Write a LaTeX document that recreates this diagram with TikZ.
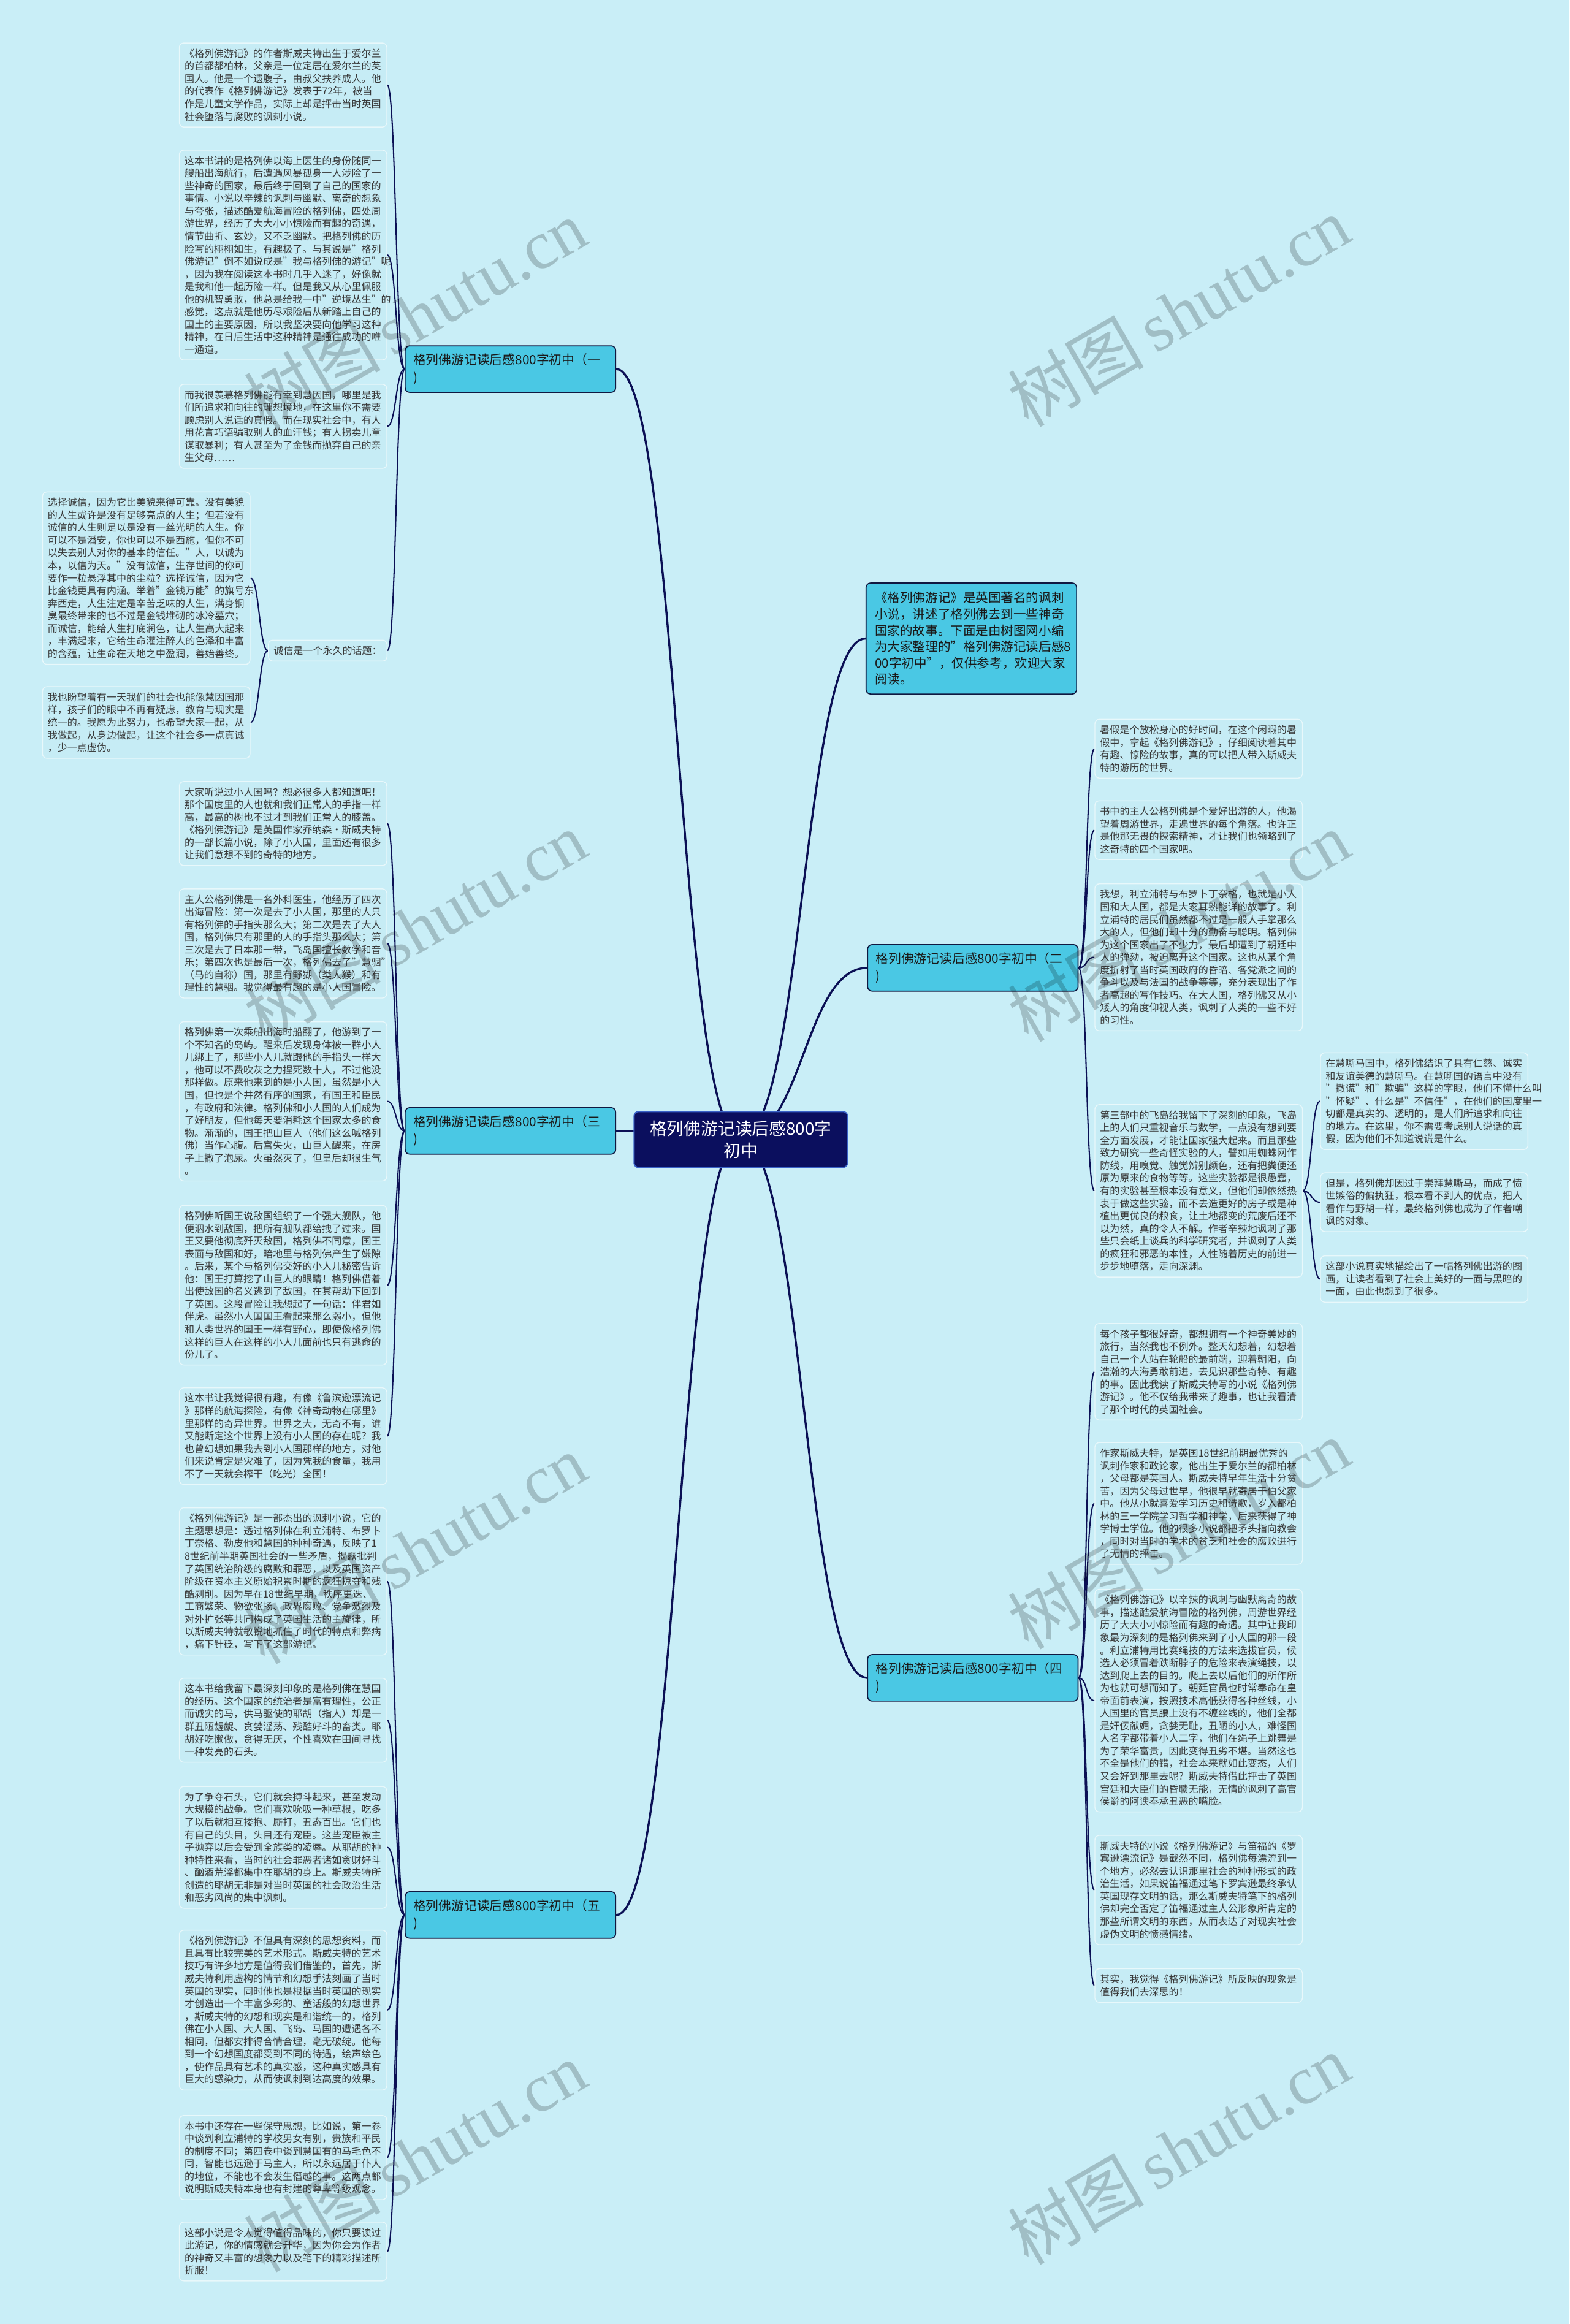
\documentclass[tikz,border=0pt]{standalone}
\usepackage{fontspec}
\setmainfont{Noto Sans CJK SC}
\newfontfamily\wmlatin{Liberation Serif}
\definecolor{bgc}{HTML}{C9EEF7}
\definecolor{leaffill}{HTML}{C6ECF5}
\definecolor{leafline}{HTML}{E8F8FB}
\definecolor{leaftext}{HTML}{383838}
\definecolor{brfill}{HTML}{4AC8E4}
\definecolor{brline}{HTML}{101840}
\definecolor{brtext}{HTML}{1A1A1A}
\definecolor{hubfill}{HTML}{0B0F5E}
\definecolor{hubline}{HTML}{3A63C8}
\definecolor{linec}{HTML}{0B1055}
\pgfdeclarelayer{bgl}\pgfdeclarelayer{lnl}\pgfsetlayers{bgl,lnl,main}
\tikzset{
 leaf/.style={draw=leafline, fill=leaffill, line width=0.6pt, rounded corners=3pt, anchor=north west, text width=133pt, inner xsep=3.5pt, inner ysep=4pt, align=left, text=leaftext, font=\fontsize{6.63pt}{8.5pt}\selectfont},
 tag/.style={draw=leafline, fill=leaffill, line width=0.6pt, rounded corners=3pt, anchor=north west, minimum width=80pt, inner xsep=3.5pt, inner ysep=4pt, text=leaftext, font=\fontsize{6.63pt}{8.5pt}\selectfont},
 branch/.style={draw=brline, fill=brfill, line width=0.7pt, rounded corners=3pt, anchor=north west, text width=131pt, inner xsep=5.5pt, inner ysep=5.3pt, align=left, text=brtext, font=\fontsize{8.6pt}{11.7pt}\selectfont},
 intro/.style={draw=brline, fill=brfill, line width=0.7pt, rounded corners=3pt, anchor=north west, text width=130pt, inner xsep=6pt, inner ysep=6pt, align=left, text=brtext, font=\fontsize{8.5pt}{11pt}\selectfont},
 hub/.style={draw=hubline, fill=hubfill, line width=0.8pt, rounded corners=3pt, anchor=north west, minimum width=144pt, text width=132pt, inner ysep=6pt, align=center, text=white, font=\fontsize{11.5pt}{15pt}\selectfont},
 trunk/.style={draw=linec, line width=1.4pt},
 twig/.style={draw=linec, line width=0.85pt},
 wm/.style={text=black, opacity=0.2, rotate=30, font=\fontsize{46pt}{50pt}\selectfont}
}
\begin{document}
\begin{tikzpicture}[x=1pt,y=-1pt]
\begin{pgfonlayer}{bgl}
\fill[bgc] (0,0) rectangle (1059,1568);
\end{pgfonlayer}
\useasboundingbox (0,0) rectangle (1059,1568);

% ---------- centre and intro ----------
\node[hub] (hub) at (427.4,749.6) {格列佛游记读后感800字\\初中};
\node[intro] (intro) at (584,393) {《格列佛游记》是英国著名的讽刺\\小说，讲述了格列佛去到一些神奇\\国家的故事。下面是由树图网小编\\为大家整理的"格列佛游记读后感8\\00字初中"，仅供参考，欢迎大家\\阅读。};

% ---------- branches ----------
\node[branch] (b1) at (273,233) {格列佛游记读后感800字初中（一\\)};
\node[branch] (b2) at (585,637) {格列佛游记读后感800字初中（二\\)};
\node[branch] (b3) at (273,747) {格列佛游记读后感800字初中（三\\)};
\node[branch] (b4) at (585,1116) {格列佛游记读后感800字初中（四\\)};
\node[branch] (b5) at (273,1276) {格列佛游记读后感800字初中（五\\)};

% ---------- branch 1 ----------
\node[leaf] (l1) at (120.7,28.7) {《格列佛游记》的作者斯威夫特出生于爱尔兰\\的首都都柏林，父亲是一位定居在爱尔兰的英\\国人。他是一个遗腹子，由叔父扶养成人。他\\的代表作《格列佛游记》发表于72年，被当\\作是儿童文学作品，实际上却是抨击当时英国\\社会堕落与腐败的讽刺小说。};
\node[leaf] (l2) at (120.7,101) {这本书讲的是格列佛以海上医生的身份随同一\\艘船出海航行，后遭遇风暴孤身一人涉险了一\\些神奇的国家，最后终于回到了自己的国家的\\事情。小说以辛辣的讽刺与幽默、离奇的想象\\与夸张，描述酷爱航海冒险的格列佛，四处周\\游世界，经历了大大小小惊险而有趣的奇遇，\\情节曲折、玄妙，又不乏幽默。把格列佛的历\\险写的栩栩如生，有趣极了。与其说是"格列\\佛游记"倒不如说成是"我与格列佛的游记"呢\\，因为我在阅读这本书时几乎入迷了，好像就\\是我和他一起历险一样。但是我又从心里佩服\\他的机智勇敢，他总是给我一中"逆境丛生"的\\感觉，这点就是他历尽艰险后从新踏上自己的\\国土的主要原因，所以我坚决要向他学习这种\\精神，在日后生活中这种精神是通往成功的唯\\一通道。};
\node[leaf] (l3) at (120.7,259) {而我很羡慕格列佛能有幸到慧因国，哪里是我\\们所追求和向往的理想境地，在这里你不需要\\顾虑别人说话的真假。而在现实社会中，有人\\用花言巧语骗取别人的血汗钱；有人拐卖儿童\\谋取暴利；有人甚至为了金钱而抛弃自己的亲\\生父母……};
\node[tag] (tag) at (180.8,431.6) {诚信是一个永久的话题：};
\node[leaf] (l4) at (28.4,331.6) {选择诚信，因为它比美貌来得可靠。没有美貌\\的人生或许是没有足够亮点的人生；但若没有\\诚信的人生则足以是没有一丝光明的人生。你\\可以不是潘安，你也可以不是西施，但你不可\\以失去别人对你的基本的信任。"人，以诚为\\本，以信为天。"没有诚信，生存世间的你可\\要作一粒悬浮其中的尘粒？选择诚信，因为它\\比金钱更具有内涵。举着"金钱万能"的旗号东\\奔西走，人生注定是辛苦乏味的人生，满身铜\\臭最终带来的也不过是金钱堆砌的冰冷墓穴；\\而诚信，能给人生打底润色，让人生高大起来\\，丰满起来，它给生命灌注醉人的色泽和丰富\\的含蕴，让生命在天地之中盈润，善始善终。};
\node[leaf] (l5) at (28.4,463) {我也盼望着有一天我们的社会也能像慧因国那\\样，孩子们的眼中不再有疑虑，教育与现实是\\统一的。我愿为此努力，也希望大家一起，从\\我做起，从身边做起，让这个社会多一点真诚\\，少一点虚伪。};

% ---------- branch 3 ----------
\node[leaf] (l6) at (120.7,527) {大家听说过小人国吗？想必很多人都知道吧！\\那个国度里的人也就和我们正常人的手指一样\\高，最高的树也不过才到我们正常人的膝盖。\\《格列佛游记》是英国作家乔纳森·斯威夫特\\的一部长篇小说，除了小人国，里面还有很多\\让我们意想不到的奇特的地方。};
\node[leaf] (l7) at (120.7,599.4) {主人公格列佛是一名外科医生，他经历了四次\\出海冒险：第一次是去了小人国，那里的人只\\有格列佛的手指头那么大；第二次是去了大人\\国，格列佛只有那里的人的手指头那么大；第\\三次是去了日本那一带，飞岛国擅长数学和音\\乐；第四次也是最后一次，格列佛去了"慧骃"\\（马的自称）国，那里有野猢（类人猴）和有\\理性的慧骃。我觉得最有趣的是小人国冒险。};
\node[leaf] (l8) at (120.7,689) {格列佛第一次乘船出海时船翻了，他游到了一\\个不知名的岛屿。醒来后发现身体被一群小人\\儿绑上了，那些小人儿就跟他的手指头一样大\\，他可以不费吹灰之力捏死数十人，不过他没\\那样做。原来他来到的是小人国，虽然是小人\\国，但也是个井然有序的国家，有国王和臣民\\，有政府和法律。格列佛和小人国的人们成为\\了好朋友，但他每天要消耗这个国家太多的食\\物。渐渐的，国王把山巨人（他们这么喊格列\\佛）当作心腹。后宫失火，山巨人醒来，在房\\子上撒了泡尿。火虽然灭了，但皇后却很生气\\。};
\node[leaf] (l9) at (120.7,813) {格列佛听国王说敌国组织了一个强大舰队，他\\便泅水到敌国，把所有舰队都给拽了过来。国\\王又要他彻底歼灭敌国，格列佛不同意，国王\\表面与敌国和好，暗地里与格列佛产生了嫌隙\\。后来，某个与格列佛交好的小人儿秘密告诉\\他：国王打算挖了山巨人的眼睛！格列佛借着\\出使敌国的名义逃到了敌国，在其帮助下回到\\了英国。这段冒险让我想起了一句话：伴君如\\伴虎。虽然小人国国王看起来那么弱小，但他\\和人类世界的国王一样有野心，即使像格列佛\\这样的巨人在这样的小人儿面前也只有逃命的\\份儿了。};
\node[leaf] (l10) at (120.7,936) {这本书让我觉得很有趣，有像《鲁滨逊漂流记\\》那样的航海探险，有像《神奇动物在哪里》\\里那样的奇异世界。世界之大，无奇不有，谁\\又能断定这个世界上没有小人国的存在呢？我\\也曾幻想如果我去到小人国那样的地方，对他\\们来说肯定是灾难了，因为凭我的食量，我用\\不了一天就会榨干（吃光）全国！};

% ---------- branch 5 ----------
\node[leaf] (l11) at (120.7,1017) {《格列佛游记》是一部杰出的讽刺小说，它的\\主题思想是：透过格列佛在利立浦特、布罗卜\\丁奈格、勒皮他和慧国的种种奇遇，反映了1\\8世纪前半期英国社会的一些矛盾，揭露批判\\了英国统治阶级的腐败和罪恶，以及英国资产\\阶级在资本主义原始积累时期的疯狂掠夺和残\\酷剥削。因为早在18世纪早期，秩序更迭、\\工商繁荣、物欲张扬、政界腐败、党争激烈及\\对外扩张等共同构成了英国生活的主旋律，所\\以斯威夫特就敏锐地抓住了时代的特点和弊病\\，痛下针砭，写下了这部游记。};
\node[leaf] (l12) at (120.7,1132) {这本书给我留下最深刻印象的是格列佛在慧国\\的经历。这个国家的统治者是富有理性，公正\\而诚实的马，供马驱使的耶胡（指人）却是一\\群丑陋龌龊、贪婪淫荡、残酷好斗的畜类。耶\\胡好吃懒做，贪得无厌，个性喜欢在田间寻找\\一种发亮的石头。};
\node[leaf] (l13) at (120.7,1205) {为了争夺石头，它们就会搏斗起来，甚至发动\\大规模的战争。它们喜欢吮吸一种草根，吃多\\了以后就相互搂抱、厮打，丑态百出。它们也\\有自己的头目，头目还有宠臣。这些宠臣被主\\子抛弃以后会受到全族类的凌辱。从耶胡的种\\种特性来看，当时的社会罪恶者诸如贪财好斗\\、酗酒荒淫都集中在耶胡的身上。斯威夫特所\\创造的耶胡无非是对当时英国的社会政治生活\\和恶劣风尚的集中讽刺。};
\node[leaf] (l14) at (120.7,1302) {《格列佛游记》不但具有深刻的思想资料，而\\且具有比较完美的艺术形式。斯威夫特的艺术\\技巧有许多地方是值得我们借鉴的，首先，斯\\威夫特利用虚构的情节和幻想手法刻画了当时\\英国的现实，同时他也是根据当时英国的现实\\才创造出一个丰富多彩的、童话般的幻想世界\\，斯威夫特的幻想和现实是和谐统一的，格列\\佛在小人国、大人国、飞岛、马国的遭遇各不\\相同，但都安排得合情合理，毫无破绽。他每\\到一个幻想国度都受到不同的待遇，绘声绘色\\，使作品具有艺术的真实感，这种真实感具有\\巨大的感染力，从而使讽刺到达高度的效果。};
\node[leaf] (l15) at (120.7,1427) {本书中还存在一些保守思想，比如说，第一卷\\中谈到利立浦特的学校男女有别，贵族和平民\\的制度不同；第四卷中谈到慧国有的马毛色不\\同，智能也远逊于马主人，所以永远居于仆人\\的地位，不能也不会发生僭越的事。这两点都\\说明斯威夫特本身也有封建的尊卑等级观念。};
\node[leaf] (l16) at (120.7,1499) {这部小说是令人觉得值得品味的，你只要读过\\此游记，你的情感就会升华，因为你会为作者\\的神奇又丰富的想象力以及笔下的精彩描述所\\折服！};

% ---------- branch 2 ----------
\node[leaf] (r1) at (738.4,485) {暑假是个放松身心的好时间，在这个闲暇的暑\\假中，拿起《格列佛游记》，仔细阅读着其中\\有趣、惊险的故事，真的可以把人带入斯威夫\\特的游历的世界。};
\node[leaf] (r2) at (738.4,540) {书中的主人公格列佛是个爱好出游的人，他渴\\望着周游世界，走遍世界的每个角落。也许正\\是他那无畏的探索精神，才让我们也领略到了\\这奇特的四个国家吧。};
\node[leaf] (r3) at (738.4,596) {我想，利立浦特与布罗卜丁奈格，也就是小人\\国和大人国，都是大家耳熟能详的故事了。利\\立浦特的居民们虽然都不过是一般人手掌那么\\大的人，但他们却十分的勤奋与聪明。格列佛\\为这个国家出了不少力，最后却遭到了朝廷中\\人的弹劾，被迫离开这个国家。这也从某个角\\度折射了当时英国政府的昏暗、各党派之间的\\争斗以及与法国的战争等等，充分表现出了作\\者高超的写作技巧。在大人国，格列佛又从小\\矮人的角度仰视人类，讽刺了人类的一些不好\\的习性。};
\node[leaf] (r4) at (738.4,745) {第三部中的飞岛给我留下了深刻的印象，飞岛\\上的人们只重视音乐与数学，一点没有想到要\\全方面发展，才能让国家强大起来。而且那些\\致力研究一些奇怪实验的人，譬如用蜘蛛网作\\防线，用嗅觉、触觉辨别颜色，还有把粪便还\\原为原来的食物等等。这些实验都是很愚蠢，\\有的实验甚至根本没有意义，但他们却依然热\\衷于做这些实验，而不去造更好的房子或是种\\植出更优良的粮食，让土地都变的荒废后还不\\以为然，真的令人不解。作者辛辣地讽刺了那\\些只会纸上谈兵的科学研究者，并讽刺了人类\\的疯狂和邪恶的本性，人性随着历史的前进一\\步步地堕落，走向深渊。};
\node[leaf] (rr1) at (890.6,710) {在慧嘶马国中，格列佛结识了具有仁慈、诚实\\和友谊美德的慧嘶马。在慧嘶国的语言中没有\\"撒谎"和"欺骗"这样的字眼，他们不懂什么叫\\"怀疑"、什么是"不信任"，在他们的国度里一\\切都是真实的、透明的，是人们所追求和向往\\的地方。在这里，你不需要考虑别人说话的真\\假，因为他们不知道说谎是什么。};
\node[leaf] (rr2) at (890.6,791) {但是，格列佛却因过于崇拜慧嘶马，而成了愤\\世嫉俗的偏执狂，根本看不到人的优点，把人\\看作与野胡一样，最终格列佛也成为了作者嘲\\讽的对象。};
\node[leaf] (rr3) at (890.6,847) {这部小说真实地描绘出了一幅格列佛出游的图\\画，让读者看到了社会上美好的一面与黑暗的\\一面，由此也想到了很多。};

% ---------- branch 4 ----------
\node[leaf] (r5) at (738.4,892.6) {每个孩子都很好奇，都想拥有一个神奇美妙的\\旅行，当然我也不例外。整天幻想着，幻想着\\自己一个人站在轮船的最前端，迎着朝阳，向\\浩瀚的大海勇敢前进，去见识那些奇特、有趣\\的事。因此我读了斯威夫特写的小说《格列佛\\游记》。他不仅给我带来了趣事，也让我看清\\了那个时代的英国社会。};
\node[leaf] (r6) at (738.4,973) {作家斯威夫特，是英国18世纪前期最优秀的\\讽刺作家和政论家，他出生于爱尔兰的都柏林\\，父母都是英国人。斯威夫特早年生活十分贫\\苦，因为父母过世早，他很早就寄居于伯父家\\中。他从小就喜爱学习历史和诗歌，岁入都柏\\林的三一学院学习哲学和神学，后来获得了神\\学博士学位。他的很多小说都把矛头指向教会\\，同时对当时的学术的贫乏和社会的腐败进行\\了无情的抨击。};
\node[leaf] (r7) at (738.4,1072) {《格列佛游记》以辛辣的讽刺与幽默离奇的故\\事，描述酷爱航海冒险的格列佛，周游世界经\\历了大大小小惊险而有趣的奇遇。其中让我印\\象最为深刻的是格列佛来到了小人国的那一段\\。利立浦特用比赛绳技的方法来选拔官员，候\\选人必须冒着跌断脖子的危险来表演绳技，以\\达到爬上去的目的。爬上去以后他们的所作所\\为也就可想而知了。朝廷官员也时常奉命在皇\\帝面前表演，按照技术高低获得各种丝线，小\\人国里的官员腰上没有不缠丝线的，他们全都\\是奸佞献媚，贪婪无耻，丑陋的小人，难怪国\\人名字都带着小人二字，他们在绳子上跳舞是\\为了荣华富贵，因此变得丑劣不堪。当然这也\\不全是他们的错，社会本来就如此变态，人们\\又会好到那里去呢？斯威夫特借此抨击了英国\\宫廷和大臣们的昏聩无能，无情的讽刺了高官\\侯爵的阿谀奉承丑恶的嘴脸。};
\node[leaf] (r8) at (738.4,1238) {斯威夫特的小说《格列佛游记》与笛福的《罗\\宾逊漂流记》是截然不同，格列佛每漂流到一\\个地方，必然去认识那里社会的种种形式的政\\治生活，如果说笛福通过笔下罗宾逊最终承认\\英国现存文明的话，那么斯威夫特笔下的格列\\佛却完全否定了笛福通过主人公形象所肯定的\\那些所谓文明的东西，从而表达了对现实社会\\虚伪文明的愤懑情绪。};
\node[leaf] (r9) at (738.4,1328) {其实，我觉得《格列佛游记》所反映的现象是\\值得我们去深思的！};

% ---------- connectors ----------
\begin{pgfonlayer}{lnl}
\coordinate (hc) at (499.6,768);
\draw[trunk] (hc) .. controls +(42,0) and +(-42,0) .. (intro.west);
\draw[trunk] (hc) .. controls +(42,0) and +(-42,0) .. (b2.west);
\draw[trunk] (hc) .. controls +(42,0) and +(-42,0) .. (b4.west);
\draw[trunk] (hc) .. controls +(-42,0) and +(42,0) .. (b1.east);
\draw[trunk] (hc) .. controls +(-42,0) and +(42,0) .. (b3.east);
\draw[trunk] (hc) .. controls +(-42,0) and +(42,0) .. (b5.east);
\foreach \c in {l1,l2,l3,tag} \draw[twig] (b1.west) .. controls +(-6,0) and +(6,0) .. (\c.east);
\foreach \c in {l4,l5} \draw[twig] (tag.west) .. controls +(-6,0) and +(6,0) .. (\c.east);
\foreach \c in {l6,l7,l8,l9,l10} \draw[twig] (b3.west) .. controls +(-6,0) and +(6,0) .. (\c.east);
\foreach \c in {l11,l12,l13,l14,l15,l16} \draw[twig] (b5.west) .. controls +(-6,0) and +(6,0) .. (\c.east);
\foreach \c in {r1,r2,r3,r4} \draw[twig] (b2.east) .. controls +(6,0) and +(-6,0) .. (\c.west);
\foreach \c in {rr1,rr2,rr3} \draw[twig] (r4.east) .. controls +(6,0) and +(-6,0) .. (\c.west);
\foreach \c in {r5,r6,r7,r8,r9} \draw[twig] (b4.east) .. controls +(6,0) and +(-6,0) .. (\c.west);
\end{pgfonlayer}

% ---------- watermarks ----------
\foreach \wx/\wy/\wn in {280/212/w1,795/210/w2,280/625/w3,795/625/w4,280/1045/w5,795/1035/w6,280/1455/w7,795/1450/w8}
  \node[wm] (\wn) at (\wx,\wy) {树图\,{\wmlatin shutu.cn}};
\end{tikzpicture}
\end{document}
